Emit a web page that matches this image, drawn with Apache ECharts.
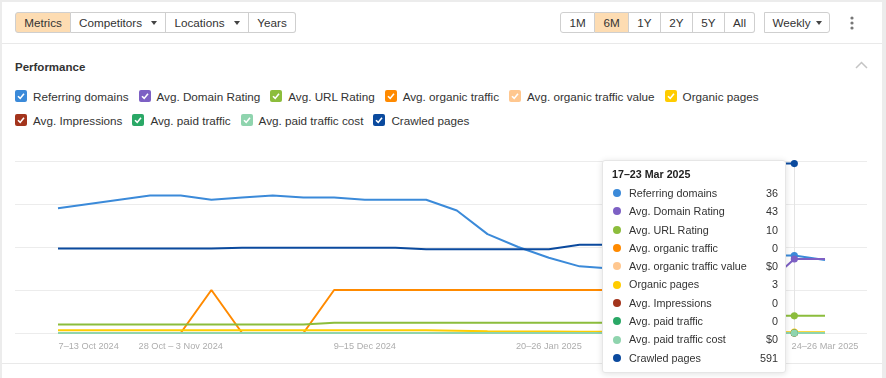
<!DOCTYPE html>
<html>
<head>
<meta charset="utf-8" />
<title>Performance</title>
<script src="https://cdn.jsdelivr.net/npm/echarts@6/dist/echarts.min.js"></script>
<style>
    html, body { margin: 0; padding: 0; width: 886px; height: 378px; overflow: hidden; background: #ececec; }
    body { position: relative; font-family: "Liberation Sans", Arial, sans-serif; color: #333; }
    .panel { position: absolute; left: 2px; top: 2px; width: 880px; height: 376px; background: #fff; }
    .hline { position: absolute; left: 2px; width: 880px; height: 1px; background: #e9e9e9; }
    .btns { position: absolute; top: 12px; height: 21px; display: flex; }
    .btns div { box-sizing: border-box; height: 21px; border: 1px solid #cfcfcf; border-left-width: 0; font-size: 11.7px;
        display: flex; align-items: center; justify-content: center; background: #fff; }
    .btns div:first-child { border-left-width: 1px; border-radius: 3px 0 0 3px; }
    .btns div:last-child { border-radius: 0 3px 3px 0; }
    .btns .on { background: #fddcb2; }
    .arr { display: inline-block; width: 0; height: 0; border-left: 3.5px solid transparent; border-right: 3.5px solid transparent;
        border-top: 4px solid #444; margin-left: 9px; }
    .title { position: absolute; left: 15px; top: 61px; font-size: 11.5px; font-weight: bold; color: #333; }
    .legend { position: absolute; left: 15px; display: flex; font-size: 11.7px; height: 14px; align-items: center; }
    .legend .item { display: flex; align-items: center; margin-right: 10px; white-space: nowrap; }
    .legend svg { margin-right: 6px; }
    #main { position: absolute; left: 0; top: 140px; width: 886px; height: 238px; }
</style>
</head>
<body>
<div class="panel"></div>
<div class="hline" style="top:43px"></div>
<div class="hline" style="top:363px"></div>

<div class="btns" style="left:15px">
    <div class="on" style="width:56px">Metrics</div>
    <div style="width:95px">Competitors<span class="arr"></span></div>
    <div style="width:83px">Locations<span class="arr"></span></div>
    <div style="width:47px">Years</div>
</div>
<div class="btns" style="left:560px">
    <div style="width:35px">1M</div>
    <div class="on" style="width:34px">6M</div>
    <div style="width:32px">1Y</div>
    <div style="width:32px">2Y</div>
    <div style="width:32px">5Y</div>
    <div style="width:30px">All</div>
</div>
<div class="btns" style="left:764px">
    <div style="width:66px">Weekly<span class="arr" style="margin-left:5px"></span></div>
</div>
<svg style="position:absolute;left:849px;top:16px" width="6" height="15">
    <circle cx="3" cy="2" r="1.6" fill="#777"/><circle cx="3" cy="7" r="1.6" fill="#777"/><circle cx="3" cy="12" r="1.6" fill="#777"/>
</svg>

<div class="title">Performance</div>
<svg style="position:absolute;left:855px;top:61px" width="13" height="8">
    <polyline points="1,7 6.5,1.5 12,7" fill="none" stroke="#c4c4c4" stroke-width="1.5"/>
</svg>
<div class="legend" id="row1" style="top:89px"></div>
<div class="legend" id="row2" style="top:113px"></div>

<div id="main"></div>

<script type="text/javascript">
    // weeks on the x axis
    var weeks = ['30 Sep – 6 Oct 2024', '7–13 Oct 2024', '14–20 Oct 2024', '21–27 Oct 2024', '28 Oct – 3 Nov 2024',
        '4–10 Nov 2024', '11–17 Nov 2024', '18–24 Nov 2024', '25 Nov – 1 Dec 2024', '2–8 Dec 2024',
        '9–15 Dec 2024', '16–22 Dec 2024', '23–29 Dec 2024', '30 Dec 2024 – 5 Jan 2025', '6–12 Jan 2025',
        '13–19 Jan 2025', '20–26 Jan 2025', '27 Jan – 2 Feb 2025', '3–9 Feb 2025', '10–16 Feb 2025',
        '17–23 Feb 2025', '24 Feb – 2 Mar 2025', '3–9 Mar 2025', '10–16 Mar 2025', '17–23 Mar 2025', '24–26 Mar 2025'];
    var labelWeeks = [1, 4, 10, 16, 25];
    var hoverWeek = 24;

    var seriesNames = ['Referring domains', 'Avg. Domain Rating', 'Avg. URL Rating', 'Avg. organic traffic',
        'Avg. organic traffic value', 'Organic pages', 'Avg. Impressions', 'Avg. paid traffic',
        'Avg. paid traffic cost', 'Crawled pages'];
    var seriesColors = ['#3b8ad9', '#7d60c4', '#8cbd3c', '#ff8a00', '#ffc78f', '#ffcc00', '#a3341c', '#2aa866', '#8fd4ae', '#0b4a9e'];
    var moneySeries = ['Avg. organic traffic value', 'Avg. paid traffic cost'];

    var referringDomains = [58, 60, 62, 64, 64, 62, 63, 64, 63, 63, 62, 62, 62, 57, 46, 40, 35, 31, 30, 31, 32, 34, 35, 36, 36, 34];
    var domainRating     = [0, 0, 0, 0, 0, 0, 0, 0, 0, 0, 0, 0, 0, 0, 0, 0, 0, 0, 0, 0, 0, 0, 20, 27, 43, 43];
    var urlRating        = [5, 5, 5, 5, 5, 5, 5, 5, 5, 6, 6, 6, 6, 6, 6, 6, 6, 6, 6, 6, 6, 6, 8, 10, 10, 10];
    var organicTraffic   = [0, 0, 0, 0, 0, 1, 0, 0, 0, 1, 1, 1, 1, 1, 1, 1, 1, 1, 1, 1, 1, 0, 0, 0, 0, 0];
    var trafficValue     = [0, 0, 0, 0, 0, 0, 0, 0, 0, 0, 0, 0, 0, 0, 0, 0, 0, 0, 0, 0, 0, 0, 0, 0, 0, 0];
    var organicPages     = [10, 10, 10, 10, 10, 10, 10, 10, 10, 10, 10, 10, 10, 8, 6, 5, 5, 4, 4, 4, 4, 3, 3, 3, 3, 3];
    var impressions      = [0, 0, 0, 0, 0, 0, 0, 0, 0, 0, 0, 0, 0, 0, 0, 0, 0, 0, 0, 0, 0, 0, 0, 0, 0, 0];
    var paidTraffic      = [0, 0, 0, 0, 0, 0, 0, 0, 0, 0, 0, 0, 0, 0, 0, 0, 0, 0, 0, 0, 0, 0, 0, 0, 0, 0];
    var paidTrafficCost  = [0, 0, 0, 0, 0, 0, 0, 0, 0, 0, 0, 0, 0, 0, 0, 0, 0, 0, 0, 0, 0, 0, 0, 0, 0, 0];
    var crawledPages     = [295, 295, 295, 295, 295, 295, 297, 297, 297, 297, 297, 297, 292, 292, 292, 292, 292, 308, 308, 591, 591, 591, 591, 591, 591, null];

    var seriesData = [referringDomains, domainRating, urlRating, organicTraffic, trafficValue, organicPages,
        impressions, paidTraffic, paidTrafficCost, crawledPages];
    // every metric has its own scale (hidden y axes)
    var scaleOf = [0, 1, 1, 2, 2, 3, 2, 2, 2, 3];
    var scaleMax = [80, 100, 4, 600];

    // checkbox legend
    function box(color) {
        return '<svg width="12" height="12"><rect x="0" y="0" width="12" height="12" rx="2" fill="' + color + '"/>' +
            '<polyline points="3,6.2 5.2,8.4 9,3.8" fill="none" stroke="#fff" stroke-width="1.6"/></svg>';
    }
    seriesNames.forEach(function (name, i) {
        var row = document.getElementById(i < 6 ? 'row1' : 'row2');
        row.innerHTML += '<div class="item">' + box(seriesColors[i]) + name + '</div>';
    });

    var yAxes = [{
        gridIndex: 0, type: 'value', min: 0, max: 4, interval: 1,
        axisLine: { show: false }, axisTick: { show: false }, axisLabel: { show: false },
        splitLine: { lineStyle: { color: '#ececec' } }
    }];
    scaleMax.forEach(function (m) {
        yAxes.push({ gridIndex: 1, type: 'value', min: 0, max: m, show: false, splitLine: { show: false } });
    });

    var series = seriesNames.map(function (name, i) {
        return {
            name: name,
            type: 'line',
            xAxisIndex: 1,
            yAxisIndex: scaleOf[i] + 1,
            data: seriesData[i],
            color: seriesColors[i],
            z: i === 3 ? 1 : 2,
            symbol: 'circle',
            showSymbol: true,
            symbolSize: function (v, p) { return p.dataIndex === hoverWeek ? 6.5 : 0; },
            itemStyle: { color: seriesColors[i], borderWidth: 0 },
            lineStyle: { width: 2, color: seriesColors[i] },
            emphasis: { disabled: true },
            silent: true
        };
    });

    var pointerLine = { color: '#e4e4e4', width: 1, type: 'solid' };

    var myChart = echarts.init(document.getElementById('main'));
    myChart.setOption({
        animation: false,
        grid: [
            { left: 15, right: 19, top: 21, bottom: 45 },
            { left: 58, right: 61, top: 21, bottom: 45 }
        ],
        xAxis: [
            { gridIndex: 0, type: 'value', min: 0, max: 1, show: false },
            {
                gridIndex: 1, type: 'category', boundaryGap: false, data: weeks,
                axisLine: { show: false }, axisTick: { show: false }, splitLine: { show: false },
                axisPointer: { z: 1, lineStyle: pointerLine },
                axisLabel: {
                    interval: function (i) { return labelWeeks.indexOf(i) >= 0; },
                    color: '#adadad', fontSize: 9.2, margin: 9,
                    fontFamily: '"Liberation Sans", Arial, sans-serif'
                }
            }
        ],
        yAxis: yAxes,
        tooltip: {
            trigger: 'axis',
            triggerOn: 'none',
            alwaysShowContent: true,
            transitionDuration: 0,
            position: [602, 20],
            padding: 0,
            borderWidth: 1,
            borderColor: '#e6e6e6',
            backgroundColor: '#fff',
            extraCssText: 'box-shadow:0 1px 6px rgba(0,0,0,0.12);border-radius:3px;width:184px;box-sizing:border-box;',
            axisPointer: { type: 'line', z: 1, lineStyle: pointerLine },
            formatter: function (params) {
                var idx = params[0].dataIndex;
                var html = '<div style="padding:5px 7px 5px 9px;font-family:\'Liberation Sans\',Arial,sans-serif;color:#333">' +
                    '<div style="font-weight:bold;font-size:10.7px;line-height:16px;margin-bottom:2px;color:#222">' + weeks[idx] + '</div>';
                params.forEach(function (p) {
                    var i = p.seriesIndex;
                    var v = seriesData[i][idx];
                    var txt = (moneySeries.indexOf(p.seriesName) >= 0 ? '$' : '') + v;
                    html += '<div style="display:flex;align-items:center;height:18.3px;font-size:10.8px;line-height:18.3px">' +
                        '<span style="display:inline-block;width:8px;height:8px;border-radius:50%;background:' + seriesColors[i] + ';margin:0 8px 0 1px"></span>' +
                        '<span style="flex:1">' + p.seriesName + '</span><span>' + txt + '</span></div>';
                });
                return html + '</div>';
            }
        },
        series: series
    });

    myChart.dispatchAction({ type: 'showTip', seriesIndex: 9, dataIndex: hoverWeek });
</script>
</body>
</html>
